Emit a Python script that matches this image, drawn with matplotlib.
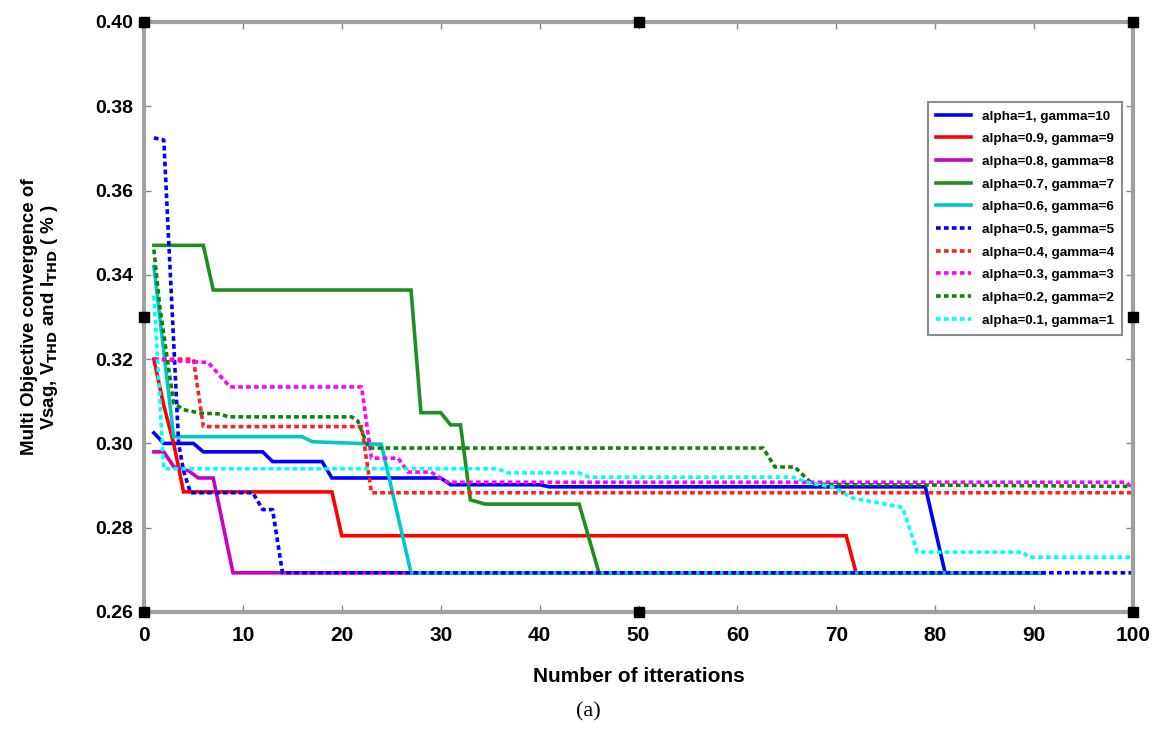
import matplotlib
matplotlib.use("Agg")
import matplotlib.pyplot as plt

# ---- data (iteration breakpoints, objective values) ----
labels = ["alpha=1, gamma=10", "alpha=0.9, gamma=9", "alpha=0.8, gamma=8",
          "alpha=0.7, gamma=7", "alpha=0.6, gamma=6", "alpha=0.5, gamma=5",
          "alpha=0.4, gamma=4", "alpha=0.3, gamma=3", "alpha=0.2, gamma=2",
          "alpha=0.1, gamma=1"]

x_a1 = [1, 2, 5, 6, 12, 13, 18, 19, 30, 31, 40, 41, 79, 81, 91]
y_a1 = [0.3025, 0.300, 0.300, 0.298, 0.298, 0.2957, 0.2957, 0.2918, 0.2918, 0.2902, 0.2902, 0.2897, 0.2897, 0.2693, 0.2693]

x_a09 = [1, 2, 3, 4, 19, 20, 71, 72, 91]
y_a09 = [0.320, 0.309, 0.300, 0.2885, 0.2885, 0.2781, 0.2781, 0.2693, 0.2693]

x_a08 = [1, 2, 3, 4.5, 5.5, 7, 9, 91]
y_a08 = [0.298, 0.298, 0.2945, 0.2935, 0.2918, 0.2918, 0.2693, 0.2693]

x_a07 = [1, 6, 7, 27, 28, 30, 31, 32, 33, 34.5, 44, 46, 91]
y_a07 = [0.347, 0.347, 0.3364, 0.3364, 0.3073, 0.3073, 0.3044, 0.3044, 0.2866, 0.2856, 0.2856, 0.2693, 0.2693]

x_a06 = [1, 3, 16, 17, 24, 27, 91]
y_a06 = [0.342, 0.3016, 0.3016, 0.3004, 0.2998, 0.2693, 0.2693]

x_a05 = [1, 2, 3.5, 4, 4.7, 11, 12, 13, 14, 100]
y_a05 = [0.3725, 0.372, 0.300, 0.2935, 0.2883, 0.2883, 0.2843, 0.2843, 0.2693, 0.2693]

x_a04 = [1, 5, 6, 22, 23, 100]
y_a04 = [0.320, 0.320, 0.3040, 0.3040, 0.2883, 0.2883]

x_a03 = [1, 4, 6.5, 8.7, 22, 23, 25.7, 26.7, 29, 30.7, 99.3, 100]
y_a03 = [0.320, 0.3195, 0.3192, 0.3134, 0.3134, 0.2965, 0.2965, 0.2932, 0.2932, 0.2908, 0.2908, 0.2893]

x_a02 = [1, 1.6, 3, 4, 5.7, 7.7, 8.5, 21, 21.6, 22.7, 62.6, 63.8, 65.8, 67.6, 100]
y_a02 = [0.346, 0.3324, 0.3096, 0.3080, 0.3072, 0.3070, 0.3063, 0.3063, 0.3054, 0.2989, 0.2989, 0.2944, 0.2944, 0.2903, 0.2898]

x_a01 = [1, 2, 35.7, 36.8, 44, 45, 65.6, 67, 69.7, 71.7, 74.7, 76.7, 78.2, 88.9, 89.4, 100]
y_a01 = [0.335, 0.294, 0.294, 0.293, 0.293, 0.292, 0.292, 0.2908, 0.2896, 0.2870, 0.2857, 0.2848, 0.2742, 0.2742, 0.2730, 0.2730]

xs = [x_a1, x_a09, x_a08, x_a07, x_a06, x_a05, x_a04, x_a03, x_a02, x_a01]
ys = [y_a1, y_a09, y_a08, y_a07, y_a06, y_a05, y_a04, y_a03, y_a02, y_a01]

colors = ["#0000ff", "#ff0000", "#c800c8", "#1f8f1f", "#00c8c8",
          "#0000ff", "#ff2020", "#ff00ff", "#108010", "#00ffff"]
styles = ["-", "-", "-", "-", "-", ":", ":", ":", ":", ":"]

xticks = list(range(0, 101, 10))
yticks = [0.26, 0.28, 0.30, 0.32, 0.34, 0.36, 0.38, 0.40]

fig = plt.figure(figsize=(11.56, 7.31), dpi=100)
ax = fig.add_axes([144/1156, 1 - 612/731, 989/1156, 590/731])

for x, y, c, s, lab in zip(xs, ys, colors, styles, labels):
    if s == "-":
        ax.plot(x, y, color=c, lw=2.6, ls="-", label=lab, solid_joinstyle="miter")
    else:
        ax.plot(x, y, color=c, lw=2.6, ls=(0, (1.3, 0.9)), label=lab)

ax.set_xlim(0, 100)
ax.set_ylim(0.26, 0.40)
ax.set_xticks(xticks)
ax.set_yticks(yticks)
ax.set_xticklabels([str(t) for t in xticks], fontsize=15, fontweight="bold",
                   family=["Liberation Sans"])
ax.set_yticklabels([f"{t:.2f}" for t in yticks], fontsize=14, fontweight="bold",
                   family=["Liberation Sans"])
ax.tick_params(direction="in", length=5, width=1, color="#888888",
               top=True, right=True, pad=8)
ax.tick_params(axis="x", pad=10)
for sp in ax.spines.values():
    sp.set_color("#a0a0a0")
    sp.set_linewidth(3)

# black square markers on the frame
for (mx, my) in [(0, 0.26), (50, 0.26), (100, 0.26), (0, 0.40), (50, 0.40),
                 (100, 0.40), (0, 0.33), (100, 0.33)]:
    ax.plot([mx], [my], marker="s", color="black", ms=7, clip_on=False, zorder=10)

ax.set_xlabel("Number of itterations", fontsize=15, fontweight="bold",
              family=["Liberation Sans"], labelpad=16)
ax.set_ylabel("Multi Objective convergence of\nVsag, V$_{\\mathbf{THD}}$ and I$_{\\mathbf{THD}}$ ( % )",
              fontsize=13.5, fontweight="bold",
              family=["Liberation Sans"], labelpad=25,
              linespacing=1.1)

leg = ax.legend(loc="upper left", bbox_to_anchor=(928/1156, 1 - 102/731),
                bbox_transform=fig.transFigure, borderaxespad=0,
                prop={"weight": "bold", "size": 9.7, "family": "Liberation Sans"},
                frameon=True, fancybox=False, handlelength=2.6, labelspacing=0.76,
                borderpad=0.6, handletextpad=0.8)
leg.get_frame().set_edgecolor("#707070")
leg.get_frame().set_linewidth(1.5)

fig.text(588/1156, 1 - 712/731, "(a)", fontsize=16, family="Liberation Serif",
         ha="center", va="center")

fig.savefig("out.png", dpi=100)
